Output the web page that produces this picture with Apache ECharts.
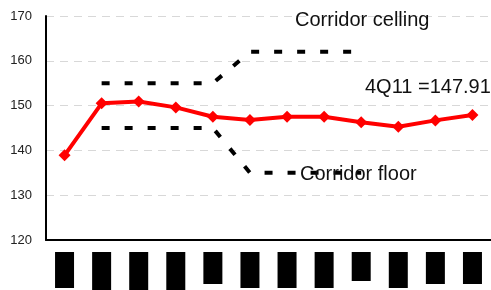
<!DOCTYPE html>
<html>
<head>
<meta charset="utf-8">
<script src="https://cdn.jsdelivr.net/npm/echarts@6/dist/echarts.min.js"></script>
<style>
  html, body { margin: 0; padding: 0; background: #fff; }
  #chart { width: 491px; height: 290px; }
</style>
</head>
<body>
<div id="chart"></div>
<script>
const quarters = ['1Q09', '2Q09', '3Q09', '4Q09', '1Q10', '2Q10', '3Q10', '4Q10', '1Q11', '2Q11', '3Q11', '4Q11'];
const indexValues = [138.9, 150.5, 150.9, 149.6, 147.5, 146.8, 147.5, 147.5, 146.3, 145.3, 146.7, 147.91];
const corridorCeiling = [null, 155, 155, 155, 155, 162, 162, 162, 162, null, null, null];
const corridorFloor = [null, 145, 145, 145, 145, 135, 135, 135, 135, null, null, null];
const yTicks = { min: 120, max: 170, step: 10 };

// label box heights (the labels are blacked out in the original)
const boxHeights = [36, 38, 38, 38, 32, 36, 36, 36, 29, 36, 32, 32];

const FONT = '"Liberation Sans", Arial, sans-serif';

const rich = {};
boxHeights.forEach((h, i) => {
  rich['b' + i] = { backgroundColor: '#000', color: '#000', width: 19, height: h, fontSize: 5, align: 'center' };
});

const dashed = { color: '#000', width: 4, type: [8, 15], cap: 'butt' };

const chart = echarts.init(document.getElementById('chart'), null, { renderer: 'canvas' });
chart.setOption({
  animation: false,
  grid: { left: 46, top: 16, width: 452, bottom: 50 },
  xAxis: {
    type: 'category',
    data: quarters,
    boundaryGap: true,
    axisLine: { lineStyle: { color: '#000', width: 2 } },
    axisTick: { show: false },
    axisLabel: {
      margin: 12,
      interval: 0,
      verticalAlign: 'top',
      formatter: (v, i) => '{b' + i + '|' + v + '}',
      rich: rich
    },
    splitLine: { show: false }
  },
  yAxis: {
    type: 'value',
    min: yTicks.min,
    max: yTicks.max,
    interval: yTicks.step,
    axisLine: { show: true, lineStyle: { color: '#000', width: 2 } },
    axisTick: { show: false },
    axisLabel: { margin: 14, color: '#222', fontSize: 13, fontFamily: '"Liberation Sans Narrow", "Liberation Sans", sans-serif' },
    splitLine: { lineStyle: { color: '#d8d8d8', type: [8, 6], width: 1 } }
  },
  series: [
    {
      name: 'Corridor ceiling',
      type: 'line',
      data: corridorCeiling,
      symbol: 'none',
      lineStyle: dashed,
      z: 1
    },
    {
      name: 'Corridor floor',
      type: 'line',
      data: corridorFloor,
      symbol: 'none',
      lineStyle: dashed,
      z: 1
    },
    {
      name: 'Index',
      type: 'line',
      data: indexValues,
      symbol: 'diamond',
      symbolSize: 12,
      itemStyle: { color: '#ff0000' },
      lineStyle: { color: '#ff0000', width: 4 },
      z: 3
    }
  ],
  graphic: [
    { type: 'text', left: 295, top: 10, z: 10, style: { text: 'Corridor celling', font: '20px ' + FONT, fill: '#111' } },
    { type: 'text', left: 365, top: 77, z: 10, style: { text: '4Q11 =147.91', font: '20px ' + FONT, fill: '#111' } },
    { type: 'text', left: 300, top: 164, z: 10, style: { text: 'Corridor floor', font: '20px ' + FONT, fill: '#111' } }
  ]
});
</script>
</body>
</html>
